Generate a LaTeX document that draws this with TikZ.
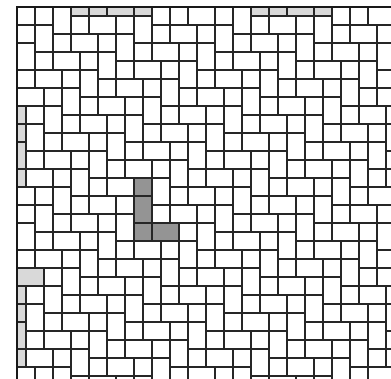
\documentclass[tikz,border=0pt]{standalone}
\begin{document}
\begin{tikzpicture}[x=0.3cm,y=-0.3cm,
  tileline/.style={draw=black!85,line width=1pt},
  frameline/.style={draw=black!90,line width=1.8pt},
  lightfill/.style={fill=black!15},
  darkfill/.style={fill=black!42}]
\useasboundingbox (-1.889,-0.778) rectangle (41.556,41.333);
\begin{scope}
\clip (0,0) rectangle (41.556,41.333);
% grey boundary pieces
\fill[lightfill] (6,0) rectangle (15,1);
\fill[lightfill] (26,0) rectangle (35,1);
\fill[lightfill] (0,11) rectangle (1,20);
\fill[lightfill] (0,31) rectangle (1,40);
\fill[lightfill] (0,29) rectangle (3,31);
% highlighted L
\fill[darkfill] (13,19) rectangle (15,26);
\fill[darkfill] (15,24) rectangle (18,26);
% herringbone of 2x5 bricks, each split into a 2x2 square and a 2x3 rectangle
\foreach \n in {-7,...,6}{
  \foreach \m in {-13,...,16}{
    \pgfmathtruncatemacro\a{13+2*\m+5*\n}
    \pgfmathtruncatemacro\b{19-2*\m+5*\n}
    \draw[tileline] (\a,\b) rectangle ++(2,2)
                    (\a,\b+2) rectangle ++(2,3)
                    (\a,\b+5) rectangle ++(2,2)
                    (\a+2,\b+5) rectangle ++(3,2);
  }
}
\end{scope}
\draw[frameline] (41.556,0) -- (0,0) -- (0,41.333);
\end{tikzpicture}
\end{document}
